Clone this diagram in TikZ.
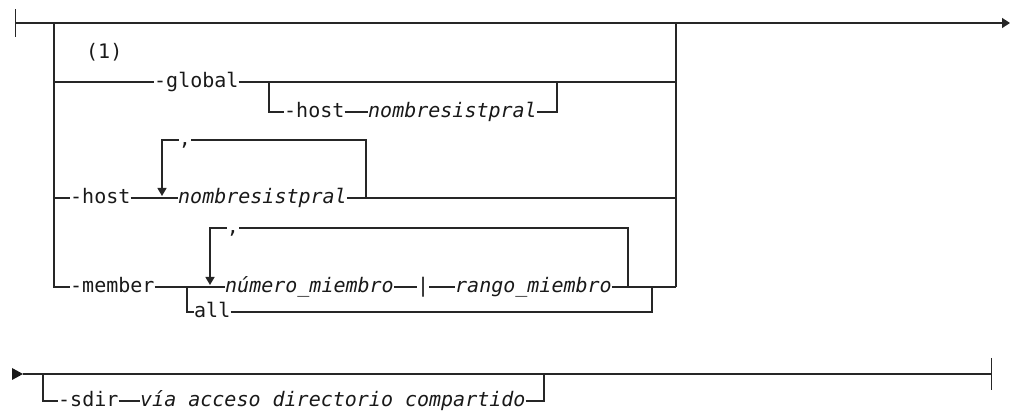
\documentclass[tikz,border=0pt]{standalone}
\usepackage{fontspec}
\newfontfamily\rrmono{DejaVu Sans Mono}
\usetikzlibrary{arrows.meta}
\begin{document}
\begin{tikzpicture}[x=1pt,y=-1pt,
  rail/.style={line width=1.4pt, draw=black!85},
  kw/.style={font=\rrmono\fontsize{20}{24}\selectfont, inner sep=0pt, text height=16pt, text depth=4pt, anchor=west, text=black!90},
  var/.style={kw, font=\rrmono\fontsize{20}{24}\selectfont\itshape},
  sep/.style={kw, anchor=center},
  loopend/.style={rail, -{Triangle[length=8pt,width=9pt]}},
  endtip/.style={rail, {Bar[width=28pt]}-{Triangle[length=8pt,width=10pt]}}]
\useasboundingbox (0,0) rectangle (1010,411);
% main line row 1
\coordinate (s1) at (15,23);
\coordinate (e1) at (1010,23);
\coordinate (L0) at (54,23);
\coordinate (R0) at (676,23);
\draw[endtip] (s1) -- (e1);
% left and right verticals
\coordinate (Lg) at (54,82);
\coordinate (Lh) at (54,198);
\coordinate (Rm) at (676,287);
\draw[rail] (R0) -- (Rm);
% global branch
\node[kw] (n1) at (86,53) {(1)};
\node[kw] (glob) at (154,82) {-global};
\coordinate (gj) at (269,82);
\coordinate (gjr) at (557,82);
\coordinate (Rg) at (676,82);
\node[kw] (gh) at (284,112) {-host};
\node[var] (gn) at (368,112) {nombresistpral};
\draw[rail] (Lg) -- (glob.west);
\draw[rail] (glob.east) -- (Rg);
\draw[rail] (gj) |- (gh.west);
\draw[rail] (gh.east) -- (gn.west);
\draw[rail] (gn.east) -| (gjr);
% host branch
\node[kw] (hh) at (70,198) {-host};
\node[var] (hn) at (178,198) {nombresistpral};
\coordinate (hr) at (366,198);
\coordinate (ha) at (162,196);
\coordinate (Rh) at (676,198);
\node[sep] (hc) at (185,140) {,};
\draw[rail] (Lh) -- (hh.west);
\draw[rail] (hh.east) -- (hn.west);
\draw[rail] (hn.east) -- (Rh);
\draw[rail] (hr) |- (hc.east);
\draw[loopend] (hc.west) -| (ha);
% member branch
\node[kw] (mm) at (70,287) {-member};
\coordinate (mj) at (187,287);
\node[var] (mn) at (225,287) {número\_miembro};
\node[kw] (mb) at (417,287) {|};
\node[var] (mr) at (455,287) {rango\_miembro};
\coordinate (mlr) at (628,287);
\coordinate (ma) at (210,285);
\coordinate (mallr) at (652,287);
\node[sep] (mc) at (233,228) {,};
\node[kw] (mall) at (194,312) {all};
\draw[rail] (L0) |- (mm.west);
\draw[rail] (mm.east) -- (mn.west);
\draw[rail] (mn.east) -- (mb.west);
\draw[rail] (mb.east) -- (mr.west);
\draw[rail] (mr.east) -- (Rm);
\draw[rail] (mlr) |- (mc.east);
\draw[loopend] (mc.west) -| (ma);
\draw[rail] (mj) |- (mall.west);
\draw[rail] (mall.east) -| (mallr);
% row 2
\coordinate (s2) at (23,374);
\coordinate (e2) at (992,374);
\coordinate (sj) at (43,374);
\coordinate (sjr) at (544,374);
\draw[rail, -{Bar[width=32pt]}] (s2) -- (e2);
\fill[black!90] (12,368) -- (23,374) -- (12,380) -- cycle;
\node[kw] (sd) at (58,401) {-sdir};
\node[var] (sv) at (140,401) {vía acceso directorio compartido};
\draw[rail] (sj) |- (sd.west);
\draw[rail] (sd.east) -- (sv.west);
\draw[rail] (sv.east) -| (sjr);
\end{tikzpicture}
\end{document}
